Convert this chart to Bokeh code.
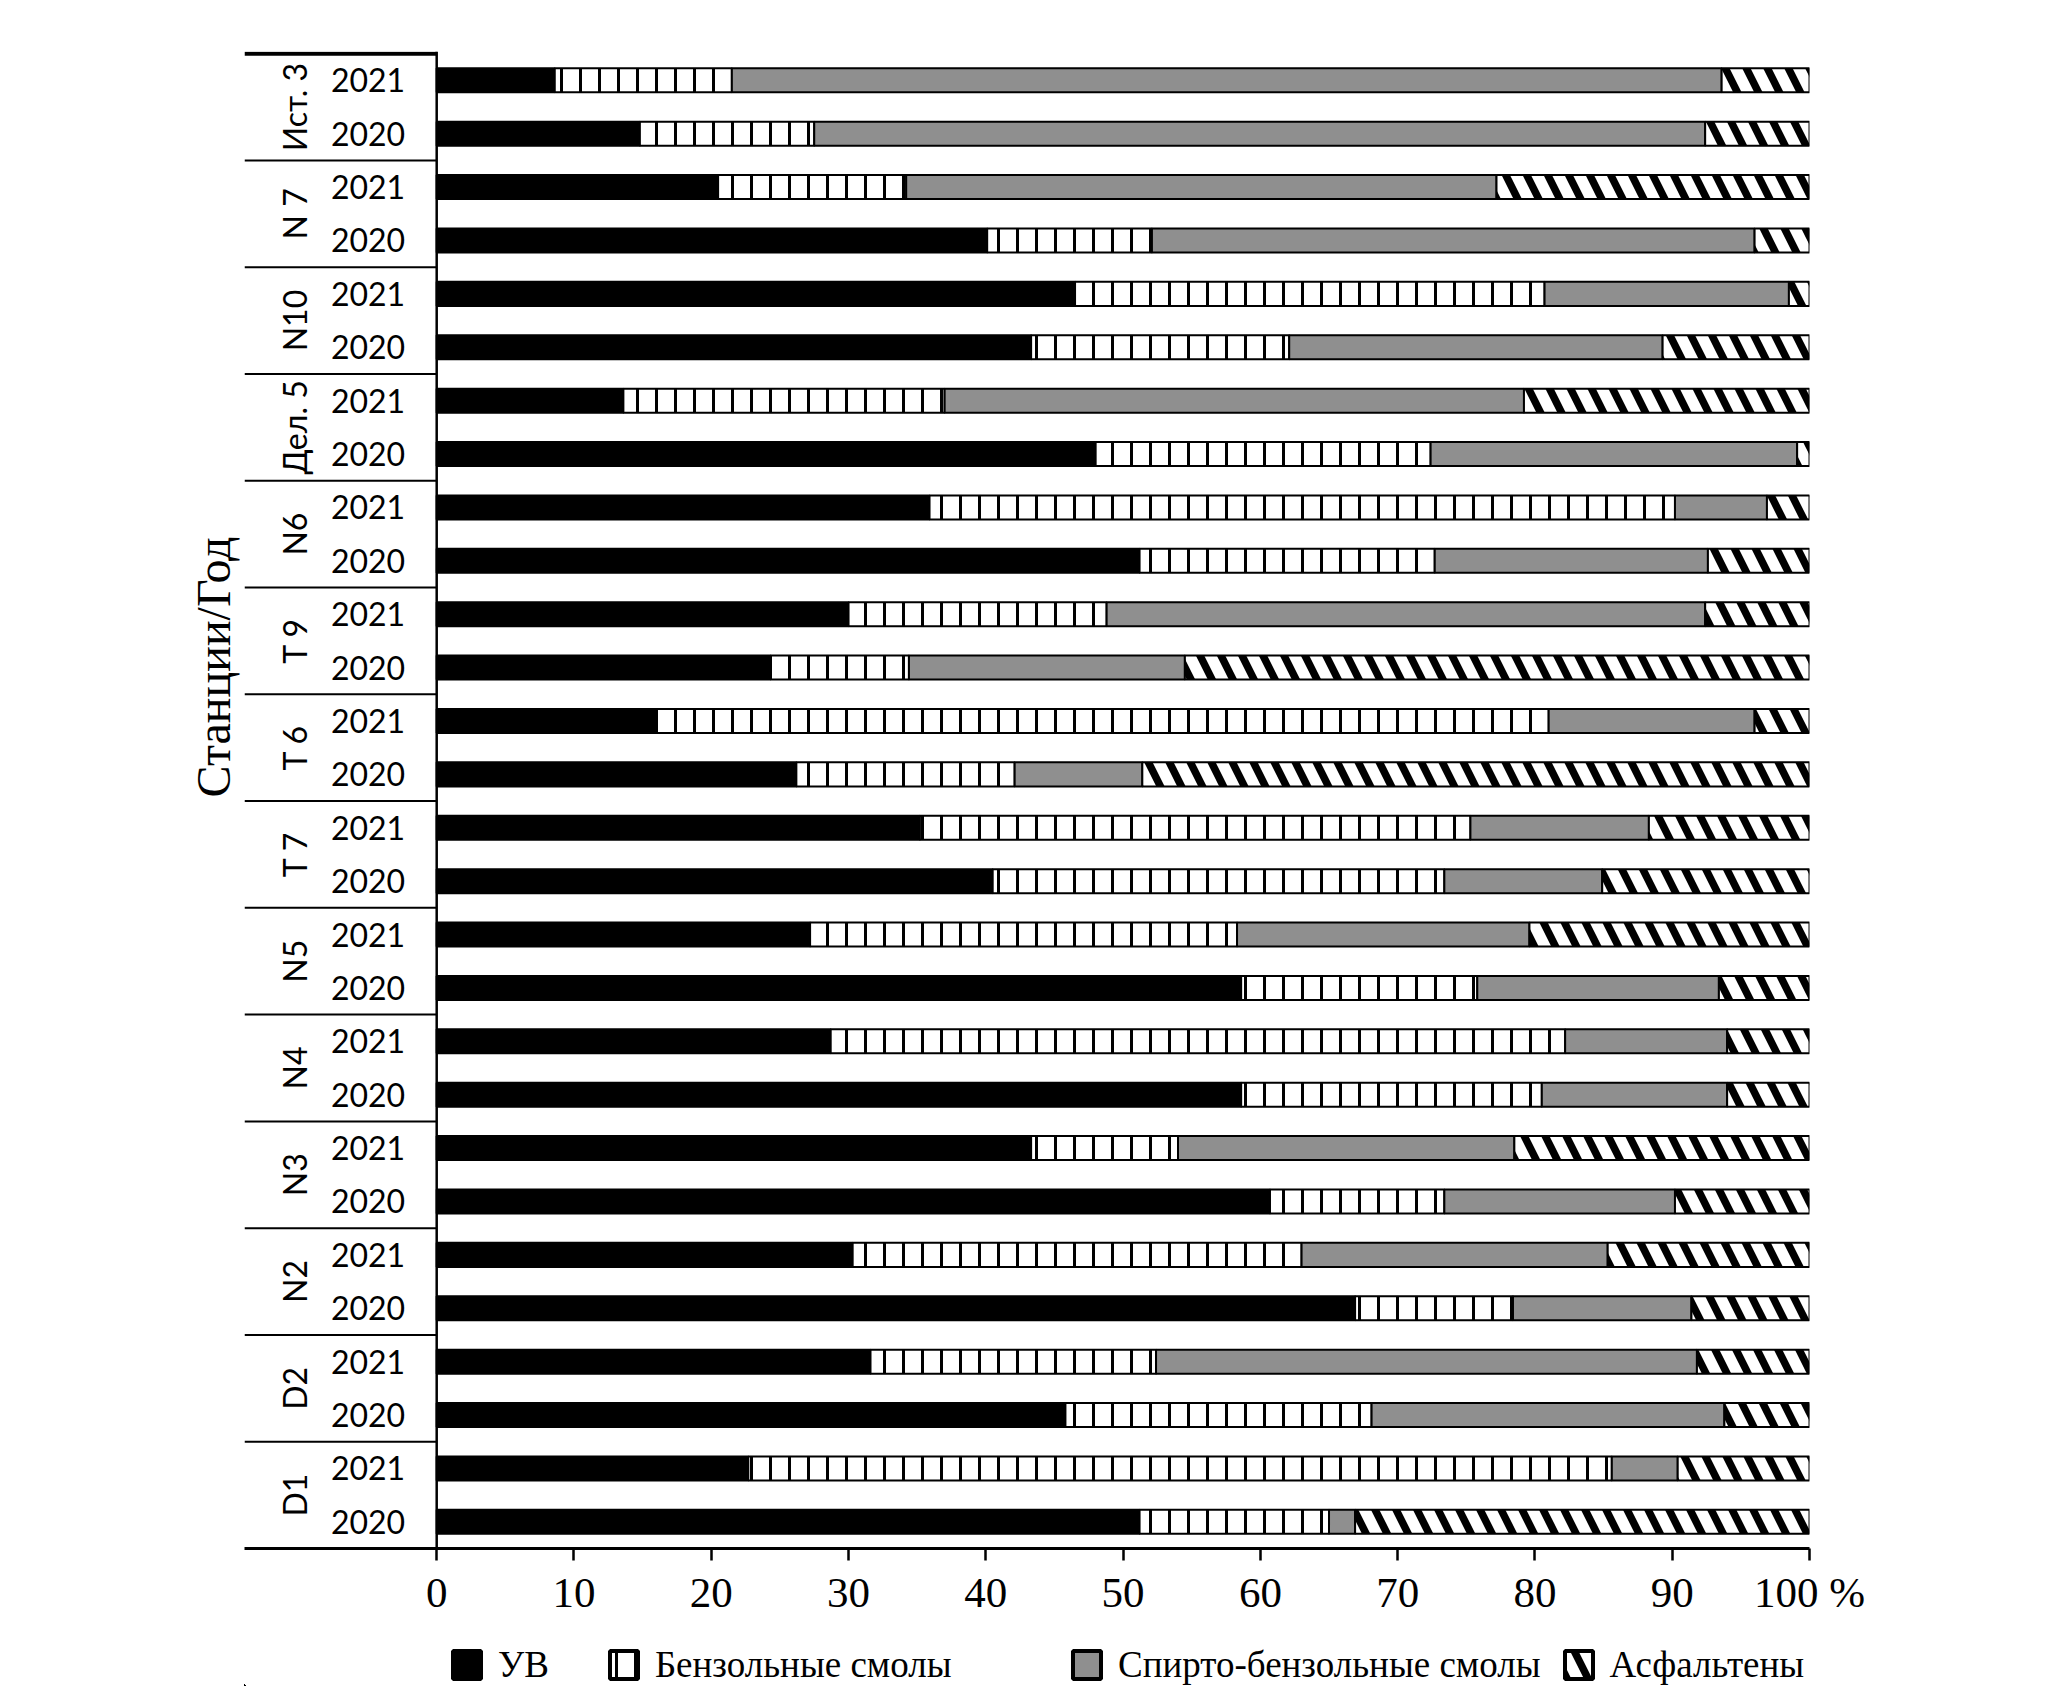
import math
from bokeh.plotting import figure
from bokeh.layouts import column
from bokeh.models import Range1d, FixedTicker, Span, Title, Legend, LegendItem, ColumnDataSource
from bokeh.core.properties import value
from bokeh.embed import file_html
from bokeh.resources import INLINE

# ---------------- data (bottom to top) ----------------
stations = ["D1", "D2", "N2", "N3", "N4", "N5", "T 7", "T 6", "T 9", "N6", "Дел. 5", "N10", "N 7", "Ист. 3"]
years = ["2020", "2021"]

uv_2020   = [51.2, 45.8, 66.9, 60.7, 58.6, 58.6, 40.5, 26.2, 24.3, 51.2, 48.0, 43.3, 40.1, 14.8]
benz_2020 = [13.8, 22.3, 11.5, 12.7, 21.9, 17.2, 32.9, 15.9, 10.1, 21.5, 24.4, 18.8, 12.0, 12.7]
sb_2020   = [1.9, 25.7, 13.0, 16.8, 13.5, 17.6, 11.5, 9.3, 20.1, 19.9, 26.7, 27.2, 43.9, 64.9]
asph_2020 = [33.1, 6.2, 8.6, 9.8, 6.0, 6.6, 15.1, 48.6, 45.5, 7.4, 0.9, 10.7, 4.0, 7.6]

uv_2021   = [22.7, 31.6, 30.3, 43.3, 28.7, 27.2, 35.2, 15.9, 30.0, 35.9, 13.6, 46.5, 20.5, 8.6]
benz_2021 = [62.9, 20.8, 32.7, 10.7, 53.5, 31.1, 40.1, 65.1, 18.8, 54.3, 23.4, 34.2, 13.7, 12.9]
sb_2021   = [4.8, 39.4, 22.3, 24.5, 11.8, 21.3, 13.0, 15.0, 43.6, 6.7, 42.2, 17.8, 43.0, 72.1]
asph_2021 = [9.6, 8.2, 14.7, 21.5, 6.0, 20.4, 11.7, 4.0, 7.6, 3.1, 20.8, 1.5, 22.8, 6.4]

series_labels = ["УВ", "Бензольные смолы", "Спирто-бензольные смолы", "Асфальтены"]
x_ticks = [0, 10, 20, 30, 40, 50, 60, 70, 80, 90, 100]
y_title = "Станции/Год"

# ---------------- styles ----------------
STACK = ["uv", "benz", "sb", "asph"]
FILLS = ["black", "white", "#8f8f8f", "white"]
HATCH = [None, "|", None, "\\"]
HSCALE = [1, 19, 1, 42]
HWEIGHT = [1, 3, 1, 7.5]

# ---------------- build rows ----------------
rows_y, rows_year, uv, benz, sb, asph = [], [], [], [], [], []
for k in range(len(stations)):
    for j, yr in enumerate(years):
        rows_y.append(2 * k + j + 0.5)
        rows_year.append(yr)
    uv += [uv_2020[k], uv_2021[k]]
    benz += [benz_2020[k], benz_2021[k]]
    sb += [sb_2020[k], sb_2021[k]]
    asph += [asph_2020[k], asph_2021[k]]

src = ColumnDataSource(dict(y=rows_y, uv=uv, benz=benz, sb=sb, asph=asph))

n_rows = len(rows_y)
X_MIN = -14.0
YEAR_X = -2.3
STATION_X = -10.35

W, H = 2040, 1618
p = figure(width=W, height=H,
           x_range=Range1d(X_MIN, 100), y_range=Range1d(0, n_rows + 0.04),
           output_backend="svg", toolbar_location=None, y_axis_location=None,
           min_border_left=244, min_border_right=W - 1809, min_border_top=51,
           min_border_bottom=H - 1548)
p.xgrid.visible = False
p.ygrid.visible = False
p.outline_line_color = None
p.background_fill_color = "white"
p.border_fill_color = "white"

ax = p.xaxis[0]
ax.ticker = FixedTicker(ticks=x_ticks)
ax.major_label_overrides = {100: "100 %"}
ax.axis_line_width = 3
ax.axis_line_color = "black"
ax.major_tick_line_width = 2.5
ax.major_tick_line_color = "black"
ax.major_tick_out = 12
ax.major_tick_in = 0
ax.minor_tick_line_color = None
ax.major_label_text_font = "Liberation Serif"
ax.major_label_text_font_size = "43px"
ax.major_label_text_color = "black"
ax.major_label_standoff = 8

bar_kw = dict(fill_color=FILLS, line_color="black",
              hatch_pattern=HATCH, hatch_color="black",
              hatch_scale=HSCALE, hatch_weight=HWEIGHT)
rs = p.hbar_stack(STACK, y="y", height=0.45, source=src, line_width=2, **bar_kw)

# category label area
bounds = [2 * k for k in range(1, len(stations))]
p.segment(x0=[X_MIN] * len(bounds), y0=bounds, x1=[0] * len(bounds), y1=bounds,
          line_color="black", line_width=2)
p.segment(x0=[X_MIN], y0=[n_rows], x1=[0], y1=[n_rows], line_color="black", line_width=4)
p.add_layout(Span(location=0, dimension="height", line_color="black", line_width=2.5))

p.text(x=[YEAR_X] * n_rows, y=rows_y, text=rows_year, text_align="right",
       text_baseline="middle", text_font=value("Lato"), text_font_size="32px", text_color="black")
p.text(x=[STATION_X] * len(stations), y=[2 * k + 1 for k in range(len(stations))], text=stations,
       angle=math.pi / 2, text_align="center", text_baseline="middle",
       text_font=value("Lato"), text_font_size="32px", text_color="black")

t = Title(text=y_title, align="right", offset=485, text_font="Liberation Serif",
          text_font_size="48px", text_font_style="normal", text_color="black")
p.add_layout(t, "left")

# ---------------- legend strip (same stacked data, kept out of view) ----------------
LH = 1686 - H
lf = figure(width=W, height=LH, x_range=Range1d(500, 600), y_range=Range1d(500, 501),
            output_backend="svg", toolbar_location=None,
            x_axis_location=None, y_axis_location=None, min_border=0)
lf.xgrid.visible = False
lf.ygrid.visible = False
lf.outline_line_color = None
lf.background_fill_color = "white"
lf.border_fill_color = "white"
lrs = lf.hbar_stack(STACK, y="y", height=0.45, source=src, line_width=4, **bar_kw)

def make_legend(idx, loc, spacing):
    return Legend(items=[LegendItem(label=series_labels[i], renderers=[lrs[i]]) for i in idx],
                  location=loc, orientation="horizontal", spacing=spacing,
                  glyph_width=35, glyph_height=35, label_standoff=14, padding=0, margin=0,
                  border_line_color=None, background_fill_alpha=0,
                  label_text_font="Liberation Serif", label_text_font_size="37px",
                  label_text_color="black", label_height=35)

lf.add_layout(make_legend([0, 1], (205, 0), 57))
lf.add_layout(make_legend([2, 3], (825, 0), 20))

layout = column(p, lf, spacing=0)
open("out.html", "w").write(file_html(layout, INLINE))
